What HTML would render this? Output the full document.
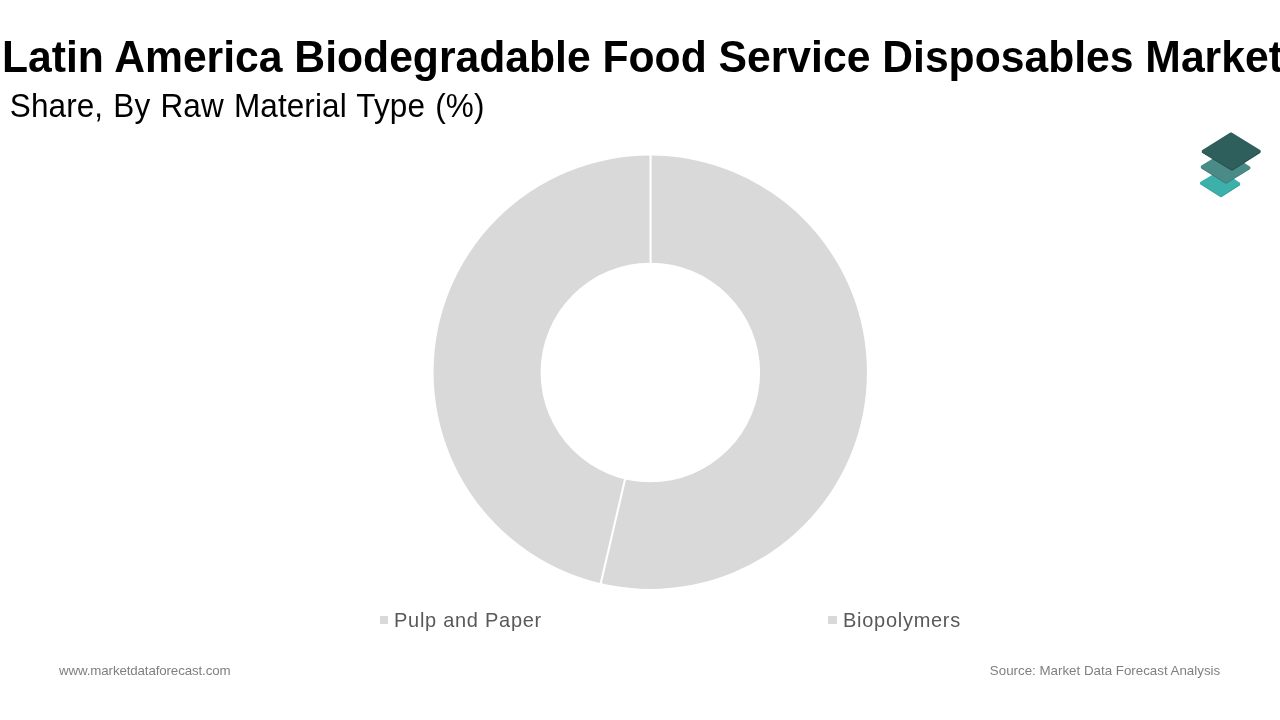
<!DOCTYPE html>
<html lang="en">
<head>
<meta charset="utf-8">
<title>Latin America Biodegradable Food Service Disposables Market</title>
<style>
  html, body { margin: 0; padding: 0; }
  body { width: 1280px; height: 720px; background: #ffffff; overflow: hidden; position: relative;
         font-family: "Liberation Sans", Arial, sans-serif; }
  .abs { position: absolute; white-space: nowrap; line-height: 1; }
  #title { left: 2px; top: 36.4px; font-size: 42.67px; font-weight: bold; color: #000; transform: scaleY(1.035); transform-origin: 0 84.6%; }
  #subtitle { left: 9.8px; top: 91.3px; font-size: 31.5px; letter-spacing: 0.1px; word-spacing: 1.3px; color: #000; transform: scaleY(1.04); transform-origin: 0 84.6%; }
  .legend { font-size: 20px; letter-spacing: 0.72px; color: #595959; transform: scaleY(1.04); transform-origin: 0 84.6%; }
  .sw { position: absolute; width: 8px; height: 7.8px; background: #d9d9d9; }
  .foot { font-size: 13.33px; color: #7f7f7f; }
  #www { letter-spacing: -0.13px; }
  svg { position: absolute; left: 0; top: 0; }
</style>
</head>
<body>
<div id="title" class="abs">Latin America Biodegradable Food Service Disposables Market</div>
<div id="subtitle" class="abs">Share, By Raw Material Type (%)</div>

<svg width="1280" height="720" viewBox="0 0 1280 720">
  <!-- donut -->
  <path fill="#d9d9d9" fill-rule="evenodd" d="M433.55,372.3 a216.7,216.7 0 1,0 433.4,0 a216.7,216.7 0 1,0 -433.4,0 Z M540.6,372.5 a109.75,109.75 0 1,1 219.5,0 a109.75,109.75 0 1,1 -219.5,0 Z"/>
  <line x1="650.55" y1="150" x2="650.55" y2="266" stroke="#ffffff" stroke-width="2.1"/>
  <line x1="626.2" y1="474.3" x2="599.9" y2="587" stroke="#ffffff" stroke-width="2.1"/>
  <!-- logo -->
  <g stroke-linejoin="round" stroke-width="2.4">
    <polygon points="1220.5,172.4 1239,184.4 1221,196.1 1201.2,183.6" fill="#2f9a95" stroke="#2f9a95"/>
    <polygon points="1220.5,171.6 1239,183.6 1221,195.3 1201.2,182.8" fill="#3cb0aa" stroke="#3cb0aa"/>
    <polygon points="1225.5,153.2 1249.2,168.2 1226,182.6 1202,167.4" fill="#3d7774" stroke="#3d7774"/>
    <polygon points="1225.5,152.4 1249.2,167.4 1226,181.8 1202,166.6" fill="#4b8b87" stroke="#4b8b87"/>
    <polygon points="1231,134.4 1259.5,151.9 1232,169.4 1203,151.9" fill="#234b49" stroke="#234b49"/>
    <polygon points="1231,133.6 1259.5,151.1 1232,168.4 1203,151.1" fill="#2f5f5c" stroke="#2f5f5c"/>
  </g>
</svg>

<div class="sw" style="left:380px; top:616px; width:8.2px;"></div>
<div class="abs legend" style="left:394px; top:609.9px;">Pulp and Paper</div>
<div class="sw" style="left:828.4px; top:616px; width:8.6px;"></div>
<div class="abs legend" style="left:843px; top:609.9px;">Biopolymers</div>

<div id="www" class="abs foot" style="left:59px; top:664px;">www.marketdataforecast.com</div>
<div class="abs foot" style="right:59.8px; top:664px;">Source: Market Data Forecast Analysis</div>
</body>
</html>
